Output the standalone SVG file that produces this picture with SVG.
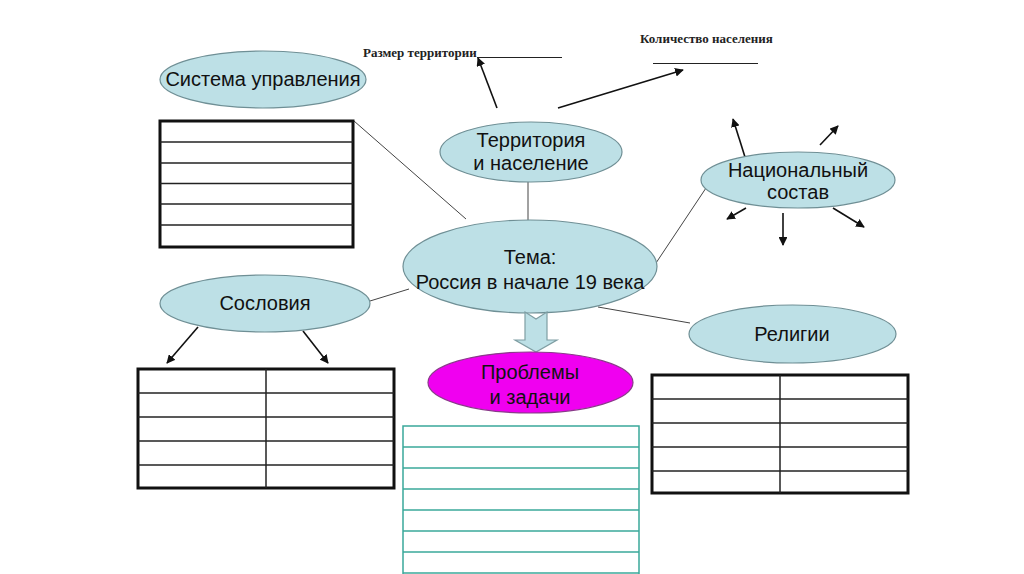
<svg xmlns="http://www.w3.org/2000/svg" width="1024" height="574" viewBox="0 0 1024 574">
<style>
.ell{fill:#bde0e6;stroke:#6f8f95;stroke-width:1.2}
.lbl{font-family:"Liberation Sans",Arial,sans-serif;font-size:20px;fill:#111;text-anchor:middle;dominant-baseline:central}
.top{font-family:"Liberation Serif","Times New Roman",serif;font-size:13px;font-weight:bold;fill:#222}
.con{stroke:#444;stroke-width:1;fill:none}
.arr{stroke:#111;stroke-width:1.6;fill:none;marker-end:url(#ah)}
.tb{fill:#fff;stroke:#111;stroke-width:3}
.tl{stroke:#222;stroke-width:1.5}
.tt{fill:#fff;stroke:#3aa89a;stroke-width:1.5}
.ttl{stroke:#3aa89a;stroke-width:1.5}
</style>
<defs>
<marker id="ah" viewBox="0 0 10 10" refX="9" refY="5" markerWidth="5.5" markerHeight="5.5" orient="auto" markerUnits="strokeWidth">
<path d="M0,0 L10,5 L0,10 z" fill="#111"/>
</marker>
</defs>
<rect width="1024" height="574" fill="#fff"/>
<g id="connectors">
<line class="con" x1="354" y1="121" x2="466" y2="219"/>
<line class="con" x1="528" y1="182" x2="528" y2="220"/>
<line class="con" x1="370" y1="301" x2="409" y2="289"/>
<line class="con" x1="656" y1="263" x2="706" y2="188"/>
<line class="con" x1="598" y1="307" x2="690" y2="323"/>
<line class="arr" x1="497" y1="108" x2="478" y2="58"/>
<line class="arr" x1="558" y1="108" x2="683" y2="70"/>
<line class="arr" x1="745" y1="157" x2="733" y2="119"/>
<line class="arr" x1="820" y1="145" x2="838" y2="126"/>
<line class="arr" x1="746" y1="208" x2="727" y2="219"/>
<line class="arr" x1="783" y1="213" x2="783" y2="245"/>
<line class="arr" x1="833" y1="208" x2="864" y2="227"/>
<line class="arr" x1="198" y1="327" x2="167" y2="363"/>
<line class="arr" x1="303" y1="331" x2="328" y2="363"/>
</g>
<g id="top-labels">
<text class="top" x="363" y="57">Размер территории</text>
<line x1="477" y1="57.5" x2="562" y2="57.5" stroke="#222" stroke-width="1"/>
<text class="top" x="640" y="43">Количество населения</text>
<line x1="653" y1="63.5" x2="758" y2="63.5" stroke="#222" stroke-width="1"/>
</g>
<g id="sistema">
<ellipse class="ell" cx="263" cy="79.5" rx="103" ry="28.5"/>
<text class="lbl" x="263" y="79">Система управления</text>
</g>
<g id="table-sistema">
<rect class="tb" x="160" y="121" width="193" height="126"/>
<line class="tl" x1="160" y1="142" x2="353" y2="142"/>
<line class="tl" x1="160" y1="163" x2="353" y2="163"/>
<line class="tl" x1="160" y1="183.5" x2="353" y2="183.5"/>
<line class="tl" x1="160" y1="204" x2="353" y2="204"/>
<line class="tl" x1="160" y1="225" x2="353" y2="225"/>
</g>
<g id="territoriya">
<ellipse class="ell" cx="531" cy="152" rx="91" ry="30"/>
<text class="lbl" x="531" y="140">Территория</text>
<text class="lbl" x="531" y="163">и население</text>
</g>
<g id="tema">
<ellipse class="ell" cx="530" cy="266.5" rx="127" ry="46.5"/>
<text class="lbl" x="530" y="257">Тема:</text>
<text class="lbl" x="530" y="282">Россия в начале 19 века</text>
</g>
<g id="natsionalny">
<ellipse class="ell" cx="798" cy="180" rx="97" ry="28"/>
<text class="lbl" x="798" y="170">Национальный</text>
<text class="lbl" x="798" y="192">состав</text>
</g>
<g id="sosloviya">
<ellipse class="ell" cx="265" cy="303.5" rx="105" ry="28.5"/>
<text class="lbl" x="265" y="303">Сословия</text>
</g>
<g id="table-sosloviya">
<rect class="tb" x="138" y="369" width="256" height="119"/>
<line class="tl" x1="266" y1="369" x2="266" y2="488"/>
<line class="tl" x1="138" y1="393" x2="394" y2="393"/>
<line class="tl" x1="138" y1="417" x2="394" y2="417"/>
<line class="tl" x1="138" y1="441" x2="394" y2="441"/>
<line class="tl" x1="138" y1="465" x2="394" y2="465"/>
</g>
<g id="religii">
<ellipse class="ell" cx="792.5" cy="334" rx="103.5" ry="29"/>
<text class="lbl" x="792" y="334">Религии</text>
</g>
<g id="table-religii">
<rect class="tb" x="652" y="375" width="256" height="118"/>
<line class="tl" x1="780" y1="375" x2="780" y2="493"/>
<line class="tl" x1="652" y1="399" x2="908" y2="399"/>
<line class="tl" x1="652" y1="423" x2="908" y2="423"/>
<line class="tl" x1="652" y1="447" x2="908" y2="447"/>
<line class="tl" x1="652" y1="471" x2="908" y2="471"/>
</g>
<g id="block-arrow">
<polygon points="525,312 536,319 547,312 547,340 557,340 536,352 515,340 525,340" fill="#bde0e6" stroke="#7f9ea3" stroke-width="1.2"/>
</g>
<g id="problemy">
<ellipse cx="530.5" cy="382.5" rx="102.5" ry="30.5" fill="#f000f0" stroke="#8a3a8a" stroke-width="1.2"/>
<text class="lbl" x="530" y="372" fill="#2a1a2a">Проблемы</text>
<text class="lbl" x="530" y="397" fill="#2a1a2a">и задачи</text>
</g>
<g id="table-problemy">
<rect class="tt" x="403" y="426" width="236" height="160"/>
<line class="ttl" x1="403" y1="447" x2="639" y2="447"/>
<line class="ttl" x1="403" y1="468" x2="639" y2="468"/>
<line class="ttl" x1="403" y1="489" x2="639" y2="489"/>
<line class="ttl" x1="403" y1="510" x2="639" y2="510"/>
<line class="ttl" x1="403" y1="531" x2="639" y2="531"/>
<line class="ttl" x1="403" y1="552" x2="639" y2="552"/>
<line class="ttl" x1="403" y1="573" x2="639" y2="573"/>
</g>
</svg>
